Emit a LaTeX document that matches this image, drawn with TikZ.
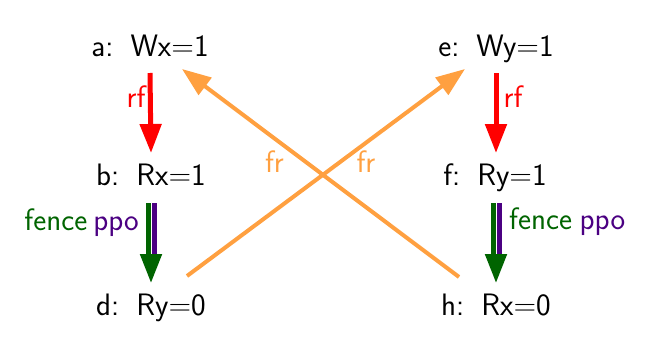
\documentclass[tikz,border=0pt]{standalone}
\usetikzlibrary{arrows.meta,calc}
\definecolor{rfcol}{HTML}{FF0000}
\definecolor{frcol}{HTML}{FFA040}
\definecolor{fencecol}{HTML}{006400}
\definecolor{ppocol}{HTML}{4B0082}
\newcommand{\gapsp}{\hspace{0.55em}}
\begin{document}
\begin{tikzpicture}[x=1pt,y=-1pt,
  ev/.style={inner sep=0pt,text height=21pt,text depth=6pt,font=\fontsize{31}{34}\selectfont\sffamily},
  lbl/.style={inner sep=0pt,anchor=base,font=\fontsize{31}{34}\selectfont\sffamily},
  tip/.style={-{Triangle[length=29pt,width=21pt]}},
  rfedge/.style={draw=rfcol,line width=5pt,tip,rfcol},
  fredge/.style={draw=frcol,line width=4pt,tip,frcol},
  fenceline/.style={draw=fencecol,line width=5pt},
  ppoline/.style={draw=ppocol,line width=5pt},
  fencehead/.style={draw=fencecol,fill=fencecol,line width=5pt,tip,fencecol},
]
\useasboundingbox (0,0) rectangle (648,343);
\node[ev] (a) at (150,48.5) {a:\gapsp Wx=1};
\node[ev] (b) at (151,177.5) {b:\gapsp Rx=1};
\node[ev] (d) at (151,307.5) {d:\gapsp Ry=0};
\node[ev] (e) at (496,48.5) {e:\gapsp Wy=1};
\node[ev] (f) at (495,177.5) {f:\gapsp Ry=1};
\node[ev] (h) at (496,307.5) {h:\gapsp Rx=0};
% rf edges
\draw[rfedge] ($(a.center)+(0,24.5)$) -- ($(b.center)+(0,-24.5)$);
\draw[rfedge] ($(e.center)+(0,24.5)$) -- ($(f.center)+(1,-24.5)$);
\node[lbl,text=rfcol] (rf1) at (136,107) {rf};
\node[lbl,text=rfcol] (rf2) at (513,107) {rf};
% fence ppo edges
\draw[fenceline] ($(b.center)+(-3,25.5)$) -- ($(d.center)+(-3,-51)$);
\draw[ppoline] ($(b.center)+(3,25.5)$) -- ($(d.center)+(3,-51)$);
\draw[fencehead] ($(d.center)+(0,-53.5)$) -- ($(d.center)+(0,-24.5)$);
\draw[fenceline] ($(f.center)+(-2,25.5)$) -- ($(h.center)+(-3,-51)$);
\draw[ppoline] ($(f.center)+(4,25.5)$) -- ($(h.center)+(3,-51)$);
\draw[fencehead] ($(h.center)+(0,-53.5)$) -- ($(h.center)+(0,-24.5)$);
\node[lbl,anchor=base east] (fl1) at (139,230) {\textcolor{fencecol}{fence}\hspace{0.2em}\textcolor{ppocol}{ppo}};
\node[lbl,anchor=base west] (fl2) at (509,229) {\textcolor{fencecol}{fence}\hspace{0.25em}\textcolor{ppocol}{ppo}};
% fr edges
\draw[fredge] ($(h.center)+(-37,-30.5)$) -- ($(a.center)+(32,20.5)$);
\draw[fredge] ($(d.center)+(36,-31.5)$) -- ($(e.center)+(-31,20.5)$);
\node[lbl,text=frcol] (fr1) at (274.5,172) {fr};
\node[lbl,text=frcol] (fr2) at (366,172) {fr};
\end{tikzpicture}
\end{document}
